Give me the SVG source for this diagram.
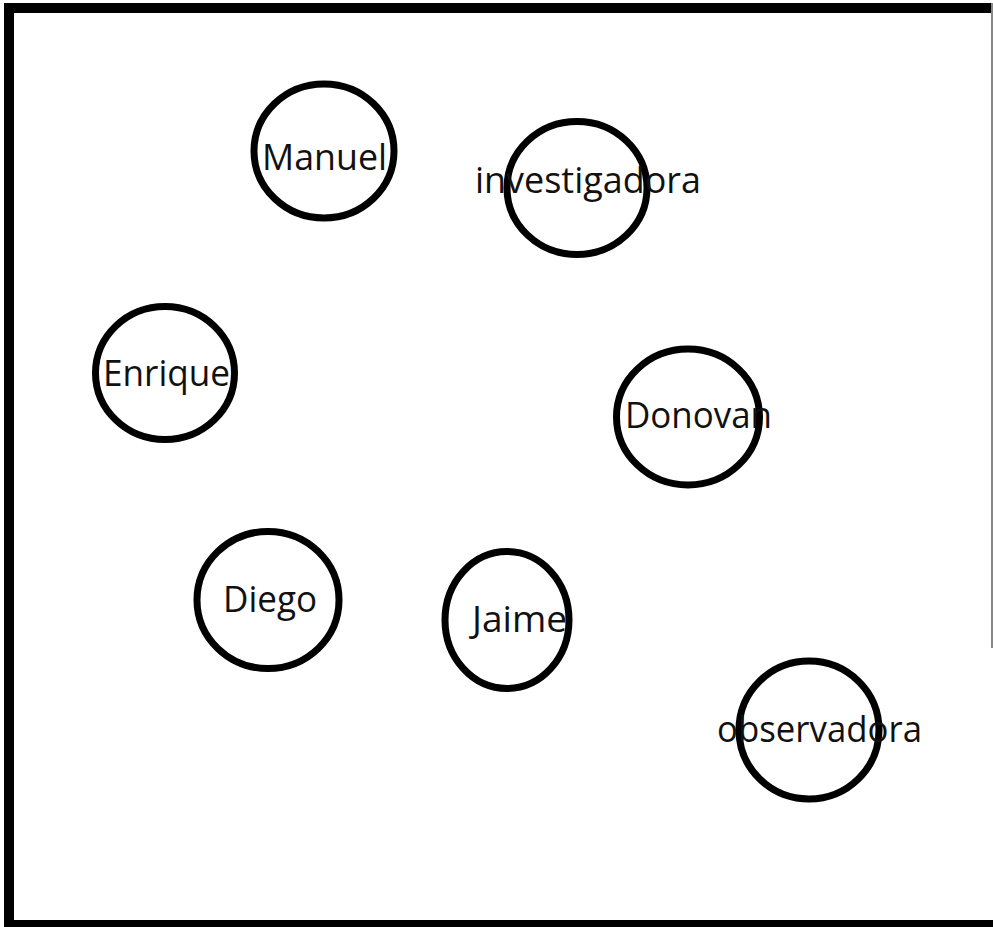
<svg xmlns="http://www.w3.org/2000/svg" width="993" height="927" viewBox="0 0 993 927">
<style>
.n ellipse{fill:none;stroke:#000;stroke-width:7}
.n text{font-family:"Open Sans","Noto Sans",sans-serif;font-size:36px;fill:#111}
</style>
<rect x="0" y="0" width="993" height="927" fill="#fff"/>
<g id="frame">
<rect x="4" y="3" width="989" height="10" fill="#000"/>
<rect x="4" y="3" width="10" height="924" fill="#000"/>
<rect x="4" y="920" width="989" height="7" fill="#000"/>
<rect x="991" y="3" width="2" height="645" fill="#888"/>
</g>
<g id="connectors"></g>
<g id="manuel" class="n"><ellipse cx="324" cy="151" rx="70" ry="67"/><text x="262" y="170" textLength="125" lengthAdjust="spacingAndGlyphs">Manuel</text></g>
<g id="investigadora" class="n"><ellipse cx="577" cy="188" rx="70" ry="66.5"/><text x="475" y="193" textLength="226" lengthAdjust="spacingAndGlyphs">investigadora</text></g>
<g id="enrique" class="n"><ellipse cx="165" cy="373" rx="69.5" ry="66.5"/><text x="103" y="386" textLength="127" lengthAdjust="spacingAndGlyphs">Enrique</text></g>
<g id="donovan" class="n"><ellipse cx="688" cy="417" rx="71.5" ry="68"/><text x="625" y="428" textLength="147" lengthAdjust="spacingAndGlyphs">Donovan</text></g>
<g id="diego" class="n"><ellipse cx="268" cy="600" rx="71" ry="68.5"/><text x="223" y="612" textLength="94" lengthAdjust="spacingAndGlyphs">Diego</text></g>
<g id="jaime" class="n"><ellipse cx="507" cy="620" rx="62" ry="68.5"/><text x="472" y="632" textLength="95" lengthAdjust="spacingAndGlyphs">Jaime</text></g>
<g id="observadora" class="n"><ellipse cx="809" cy="730" rx="70" ry="69"/><text x="717" y="742" textLength="205" lengthAdjust="spacingAndGlyphs">observadora</text></g>
</svg>
